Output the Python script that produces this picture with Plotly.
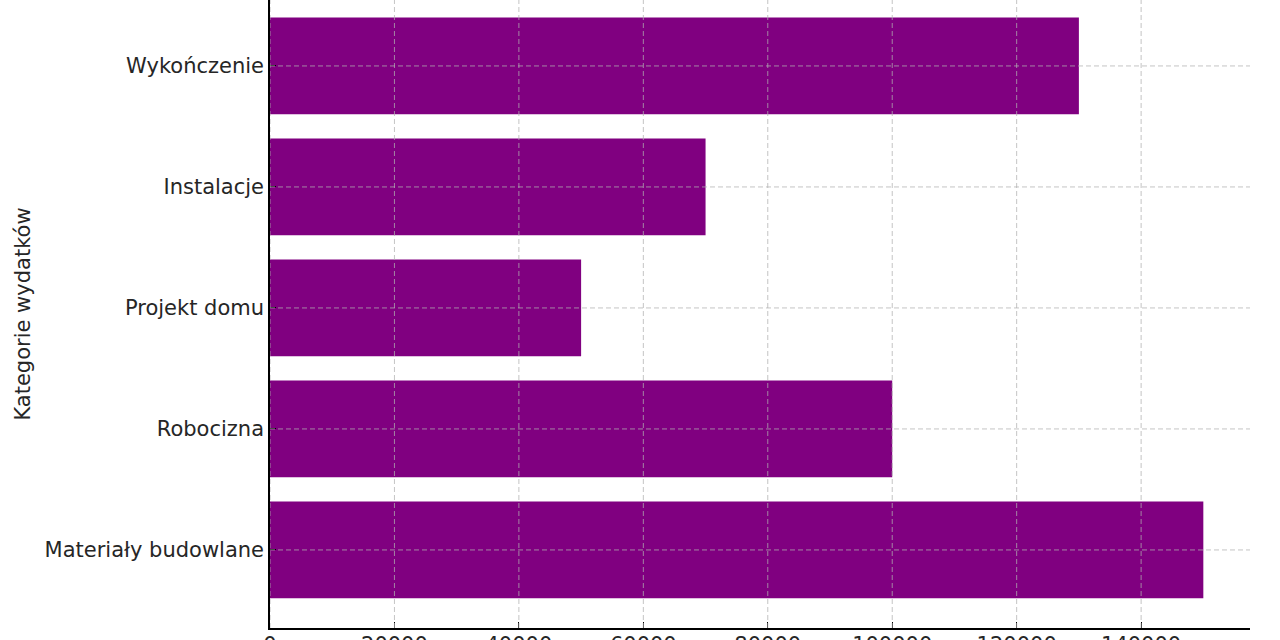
import plotly.graph_objects as go

categories = ["Materiały budowlane", "Robocizna", "Projekt domu", "Instalacje", "Wykończenie"]
values = [150000, 100000, 50000, 70000, 130000]
x_ticks = [0, 20000, 40000, 60000, 80000, 100000, 120000, 140000]

BAR = "#800080"
TXT = "#262626"
GRID = "rgba(176,176,176,0.75)"
FONT = "DejaVu Sans"

fig = go.Figure(go.Bar(
    y=categories, x=values, orientation="h",
    marker=dict(color=BAR, line=dict(width=0)),
    width=0.8,
))

shapes = []
for t in x_ticks:
    shapes.append(dict(type="line", xref="x", yref="paper", x0=t, x1=t, y0=0, y1=1,
                       line=dict(color=GRID, width=1, dash="5px,3px"), layer="above"))
for c in categories:
    shapes.append(dict(type="line", xref="paper", yref="y", x0=0, x1=1, y0=c, y1=c,
                       line=dict(color=GRID, width=1, dash="5px,3px"), layer="above"))

fig.update_layout(
    width=1280, height=640,
    margin=dict(l=270, r=30, t=0, b=12),
    plot_bgcolor="white", paper_bgcolor="white",
    font=dict(family=FONT, size=21, color=TXT),
    showlegend=False,
    shapes=shapes,
    bargap=0.2,
)
fig.update_xaxes(
    range=[0, 157500], tickvals=x_ticks, ticktext=[str(t) for t in x_ticks],
    showgrid=False, zeroline=False, showline=True, linecolor="black", linewidth=1.5,
    ticks="inside", ticklen=6, tickcolor="black", tickfont=dict(size=21, color=TXT),
    ticklabelstandoff=-3,
    automargin=False,
)
fig.update_yaxes(
    categoryorder="array", categoryarray=categories,
    range=[-0.645, 4.545],
    showgrid=False, zeroline=False, showline=True, linecolor="black", linewidth=1.5,
    ticks="inside", ticklen=6, tickcolor="black", tickfont=dict(size=21, color=TXT),
    title=dict(text="Kategorie wydatków", font=dict(family=FONT, size=21, color=TXT), standoff=8),
    automargin=False,
)

fig.write_html("out.html")
